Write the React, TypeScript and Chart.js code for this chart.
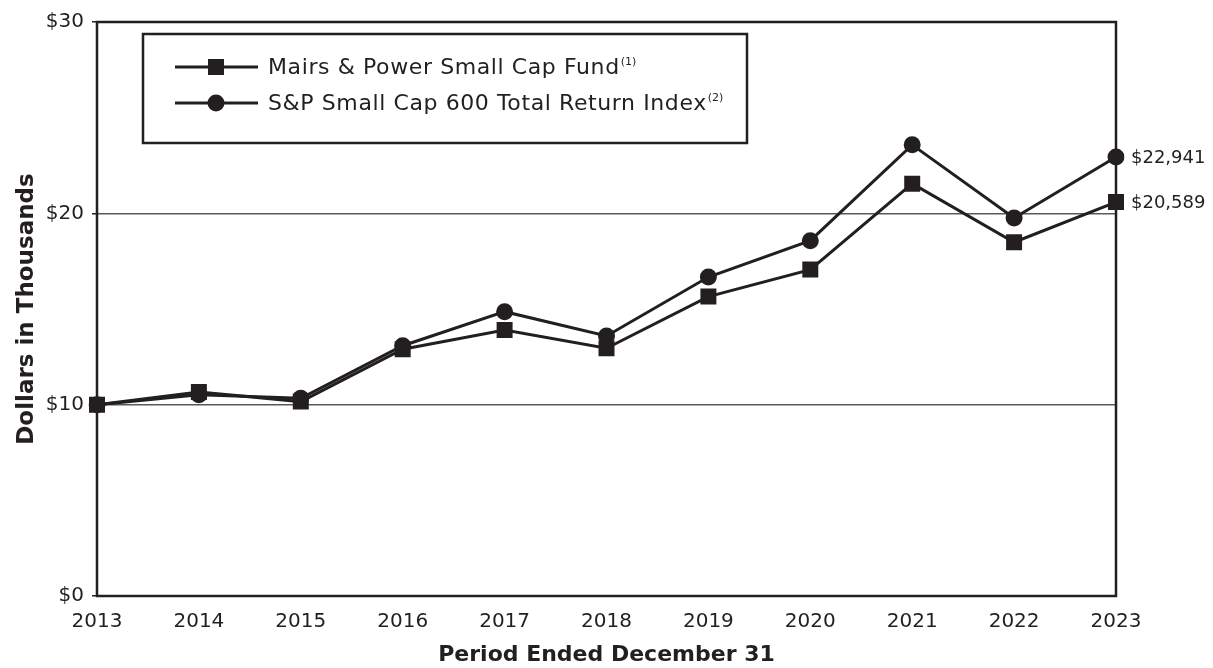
import React, { useEffect, useRef } from 'react';
import { Chart, registerables } from 'chart.js';

Chart.register(...registerables);

const years = ['2013', '2014', '2015', '2016', '2017', '2018', '2019', '2020', '2021', '2022', '2023'];
const fundValues = [10.0, 10.66, 10.16, 12.9, 13.9, 12.95, 15.65, 17.06, 21.55, 18.49, 20.589];
const indexValues = [10.0, 10.52, 10.33, 13.08, 14.86, 13.59, 16.67, 18.57, 23.58, 19.76, 22.941];
const seriesLabels = ['Mairs & Power Small Cap Fund', 'S&P Small Cap 600 Total Return Index'];
const seriesNotes = ['(1)', '(2)'];
const endLabels = ['$20,589', '$22,941'];
const yTickValues = [0, 10, 20, 30];
const yTitle = 'Dollars in Thousands';
const xTitle = 'Period Ended December 31';

const INK = '#231f20';
const GRID = '#5a5a5a';
const FONT = "'DejaVu Sans', sans-serif";

const framePlugin = {
  id: 'frame',
  beforeDatasetsDraw(chart: any) {
    const { ctx, chartArea } = chart;
    ctx.save();
    ctx.strokeStyle = INK;
    ctx.lineWidth = 2.5;
    ctx.strokeRect(chartArea.left, chartArea.top, chartArea.right - chartArea.left, chartArea.bottom - chartArea.top);
    ctx.restore();
  },
};

function drawMarker(ctx: CanvasRenderingContext2D, style: string, x: number, y: number) {
  ctx.fillStyle = INK;
  if (style === 'rect') {
    ctx.fillRect(x - 8, y - 8, 16, 16);
  } else {
    ctx.beginPath();
    ctx.arc(x, y, 8.5, 0, Math.PI * 2);
    ctx.fill();
  }
}

const overlayPlugin = {
  id: 'overlay',
  afterDraw(chart: any) {
    const { ctx } = chart;
    ctx.save();
    // end value labels
    chart.data.datasets.forEach((ds: any, i: number) => {
      const meta = chart.getDatasetMeta(i);
      const pt = meta.data[meta.data.length - 1];
      ctx.font = `18px ${FONT}`;
      ctx.fillStyle = INK;
      ctx.textAlign = 'left';
      ctx.textBaseline = 'middle';
      ctx.fillText(endLabels[i], pt.x + 15, pt.y + 1);
    });
    // legend box
    ctx.strokeStyle = INK;
    ctx.lineWidth = 2.5;
    ctx.strokeRect(143, 34, 604, 109);
    const rowsY = [67, 103];
    chart.data.datasets.forEach((ds: any, i: number) => {
      const y = rowsY[i];
      ctx.strokeStyle = INK;
      ctx.lineWidth = 3;
      ctx.beginPath();
      ctx.moveTo(175, y);
      ctx.lineTo(258, y);
      ctx.stroke();
      drawMarker(ctx, ds.pointStyle, 216, y);
      ctx.fillStyle = INK;
      ctx.textAlign = 'left';
      ctx.textBaseline = 'middle';
      ctx.font = `22px ${FONT}`;
      (ctx as any).letterSpacing = '0.6px';
      ctx.fillText(ds.label, 268, y + 1);
      const w = ctx.measureText(ds.label).width;
      (ctx as any).letterSpacing = '0px';
      ctx.font = `11px ${FONT}`;
      ctx.fillText(seriesNotes[i], 268 + w + 1, y - 5);
    });
    ctx.restore();
  },
};

export default function App() {
  const ref = useRef<HTMLCanvasElement | null>(null);
  useEffect(() => {
    document.body.style.margin = '0';
    if (!ref.current) return;
    const chart = new Chart(ref.current, {
      type: 'line',
      data: {
        labels: years,
        datasets: [
          {
            label: seriesLabels[0],
            data: fundValues,
            borderColor: INK,
            backgroundColor: INK,
            borderWidth: 3,
            pointStyle: 'rect',
            pointRadius: 11.3,
            pointHoverRadius: 11.3,
            pointBorderWidth: 0,
            tension: 0,
          },
          {
            label: seriesLabels[1],
            data: indexValues,
            borderColor: INK,
            backgroundColor: INK,
            borderWidth: 3,
            pointStyle: 'circle',
            pointRadius: 8.5,
            pointHoverRadius: 8.5,
            pointBorderWidth: 0,
            tension: 0,
          },
        ],
      },
      options: {
        responsive: false,
        devicePixelRatio: 1,
        animation: false,
        events: [],
        layout: { padding: { top: 22, right: 97, left: 0, bottom: 0 } },
        plugins: {
          legend: { display: false },
          tooltip: { enabled: false },
        },
        scales: {
          x: {
            type: 'category',
            offset: false,
            grid: { display: false },
            border: { display: false },
            ticks: {
              color: INK,
              font: { family: FONT, size: 20 },
              padding: 6,
              maxRotation: 0,
              autoSkip: false,
            },
            title: {
              display: true,
              text: xTitle,
              color: INK,
              font: { family: FONT, size: 22, weight: 'bold' },
              padding: { top: 0, bottom: 0 },
            },
            afterFit(scale: any) {
              scale.height = 72;
            },
          },
          y: {
            min: 0,
            max: 30,
            afterBuildTicks(scale: any) {
              scale.ticks = yTickValues.map((v) => ({ value: v }));
            },
            grid: {
              color: (c: any) => (c.tick && (c.tick.value === 10 || c.tick.value === 20) ? GRID : 'rgba(0,0,0,0)'),
              lineWidth: 1.5,
              tickColor: INK,
              tickLength: 5,
              drawTicks: true,
            },
            border: { display: false },
            ticks: {
              color: INK,
              font: { family: FONT, size: 20 },
              padding: 8,
              callback: (v: any) => '$' + v,
            },
            title: {
              display: true,
              text: yTitle,
              color: INK,
              font: { family: FONT, size: 23, weight: 'bold' },
              padding: { top: 13, bottom: 0 },
            },
            afterFit(scale: any) {
              scale.width = 97;
            },
          },
        },
      },
      plugins: [framePlugin, overlayPlugin],
    } as any);
    return () => chart.destroy();
  }, []);
  return (
    <div style={{ width: 1213, height: 668, position: 'absolute', left: 0, top: 0 }}>
      <canvas ref={ref} width={1213} height={668} />
    </div>
  );
}
